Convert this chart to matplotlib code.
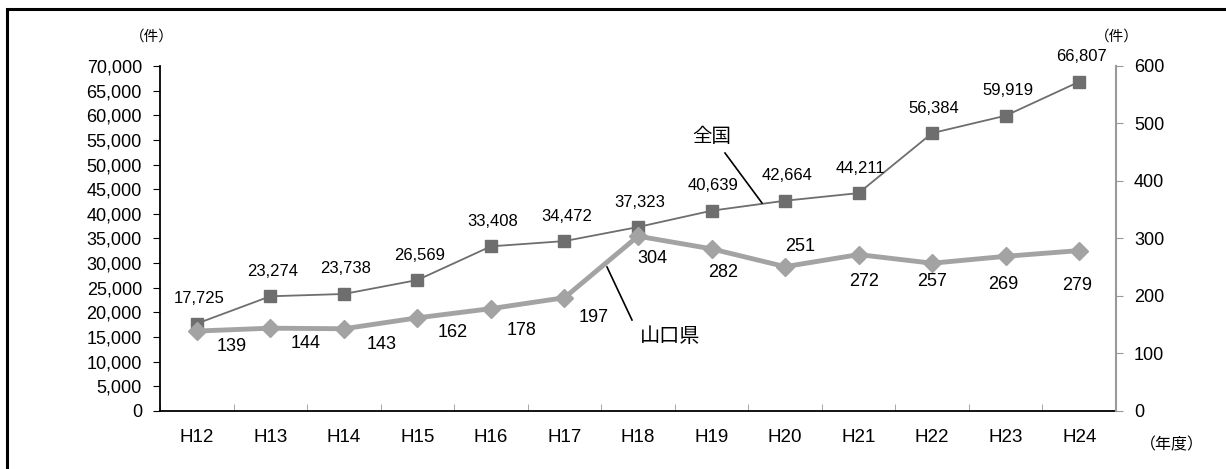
import matplotlib.pyplot as plt
from matplotlib.patches import Rectangle

years = ["H12", "H13", "H14", "H15", "H16", "H17", "H18",
         "H19", "H20", "H21", "H22", "H23", "H24"]
zenkoku = [17725, 23274, 23738, 26569, 33408, 34472, 37323,
           40639, 42664, 44211, 56384, 59919, 66807]
yamaguchi = [139, 144, 143, 162, 178, 197, 304,
             282, 251, 272, 257, 269, 279]

# label offsets for yamaguchi (pixels)
y_off = [(35, -15), (35, -15), (38, -16), (35, -15), (31, -22), (29, -20), (14, -22),
         (12, -24), (15, 20), (5, -27), (0, -18), (-2, -28), (-2, -35)]

plt.rcParams['font.family'] = ['Liberation Sans', 'Noto Sans CJK JP']
jp = ['Noto Sans CJK JP', 'Liberation Sans']

fig = plt.figure(figsize=(12.26, 4.69), dpi=100)
ax = fig.add_axes([0.1305, 0.1237, 0.7798, 0.7356])
ax2 = ax.twinx()

x = list(range(len(years)))
ax.plot(x, zenkoku, color="#6e6e6e", lw=1.3, marker="s", ms=8, zorder=3)
ax2.plot(x, yamaguchi, color="#a3a3a3", lw=3.5, marker="D", ms=9, zorder=3)

ax.set_xlim(-0.5, 12.5)
ax.set_ylim(0, 70000)
ax2.set_ylim(0, 600)
ax.set_yticks(range(0, 70001, 5000))
ax.set_yticklabels([f"{v:,}" for v in range(0, 70001, 5000)], fontsize=13)
ax2.set_yticks(range(0, 601, 100))
ax2.set_yticklabels([str(v) for v in range(0, 601, 100)], fontsize=13)

ax.set_xticks(x)
ax.set_xticklabels(years, fontsize=13.5)
ax.set_xticks([i + 0.5 for i in range(-1, 13)], minor=True)
ax.tick_params(axis="x", which="major", length=0, pad=13)
ax.tick_params(axis="x", which="minor", direction="in", length=5, color="#999999")
ax.tick_params(axis="y", direction="out", length=5, pad=8)
ax2.tick_params(axis="y", direction="out", length=5, pad=8, color="#999999")

for a in (ax, ax2):
    a.spines["top"].set_visible(False)
ax.spines["right"].set_visible(False)
ax2.spines["left"].set_visible(False)
ax2.spines["bottom"].set_visible(False)
ax2.spines["right"].set_color("#999999")
ax2.spines["right"].set_linewidth(1.5)
ax.spines["left"].set_linewidth(1.3)
ax.spines["bottom"].set_linewidth(1.3)

for i, v in enumerate(zenkoku):
    ax.annotate(f"{v:,}", (i, v), xytext=(2, 25), textcoords="offset pixels",
                ha="center", va="center", fontsize=12)
for i, v in enumerate(yamaguchi):
    dx, dy = y_off[i]
    ax2.annotate(str(v), (i, v), xytext=(dx, dy), textcoords="offset pixels",
                 ha="center", va="center", fontsize=13)

# callouts
fig.add_artist(plt.Line2D([725 / 1226, 762 / 1226], [1 - 153 / 469, 1 - 203 / 469],
                          color="black", lw=1.2))
fig.text(712 / 1226, 1 - 137 / 469, "全国", ha="center", va="center",
         fontsize=14, family=jp)
fig.add_artist(plt.Line2D([607 / 1226, 632 / 1226], [1 - 267 / 469, 1 - 320 / 469],
                          color="black", lw=1.2))
fig.text(670 / 1226, 1 - 336 / 469, "山口県", ha="center", va="center",
         fontsize=14.5, family=jp)

fig.text(152 / 1226, 1 - 37 / 469, "（件）", ha="center", va="center",
         fontsize=10.5, family=jp)
fig.text(1117 / 1226, 1 - 37 / 469, "（件）", ha="center", va="center",
         fontsize=10.5, family=jp)
fig.text(1172 / 1226, 1 - 445 / 469, "（年度）", ha="center", va="center",
         fontsize=11.5, family=jp)

fig.add_artist(Rectangle((7 / 1226, -0.1), 1.2, 1 - 9 / 469 + 0.1,
                         transform=fig.transFigure, fill=False,
                         edgecolor="black", lw=2.2))

fig.savefig("out.png", dpi=100)
